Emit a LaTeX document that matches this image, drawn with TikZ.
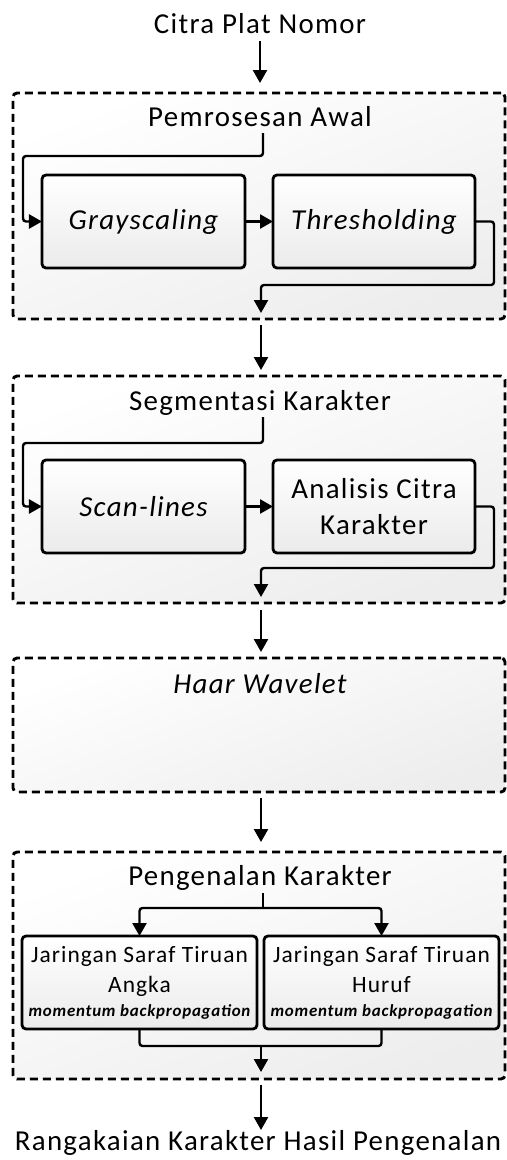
\documentclass[tikz,border=0pt]{standalone}
\usepackage{fontspec}
\setmainfont{Carlito}[LetterSpace=4.5]
\usetikzlibrary{arrows.meta}
\tikzset{
  txt/.style={inner sep=0pt, outer sep=0pt, anchor=base, font=\fontsize{29}{34}\selectfont},
  group/.style={draw, line width=2.9bp, dash pattern=on 8bp off 5bp, rounded corners=4bp,
    top color=white, bottom color=black!7, shading angle=20, outer sep=0pt, inner sep=0pt},
  stepbox/.style={draw, line width=2.8bp, rounded corners=4bp, top color=white, bottom color=black!8,
    outer sep=0pt, inner sep=0pt, align=center, font=\fontsize{29}{36}\selectfont},
  arr/.style={line width=2.4bp, -{Triangle[length=13bp,width=14bp]}, rounded corners=3bp},
  ln/.style={line width=2.4bp, rounded corners=3bp},
}
\begin{document}
\begin{tikzpicture}[x=1bp,y=-1bp]
\useasboundingbox (0,0) rectangle (507,1160);
% title
\node[txt] (in) at (260,33) {Citra Plat Nomor};
% group 1
\node[group, minimum width=492bp, minimum height=226bp] (g1) at (259,206) {};
\node[txt] (g1t) at (260,126) {Pemrosesan Awal};
\node[stepbox, minimum width=203bp, minimum height=93bp] (gs) at (143.5,221.5) {\itshape Grayscaling};
\node[stepbox, minimum width=202bp, minimum height=93bp] (th) at (374,221.5) {\itshape Thresholding};
\coordinate (c1) at (263,133);
\coordinate (o1) at (261,313);
\draw[arr] (c1) -- (263,156) -- (23,156) |- (gs.west);
\draw[arr] (gs) -- (th);
\draw[arr] (th.east) -- (494,221.5) |- (261,285) -- (o1);
% group 2
\node[group, minimum width=492bp, minimum height=227bp] (g2) at (259,489.5) {};
\node[txt] (g2t) at (260,410) {Segmentasi Karakter};
\node[stepbox, minimum width=203bp, minimum height=93bp] (sl) at (143.5,506.5) {\itshape Scan-lines};
\node[stepbox, minimum width=202bp, minimum height=93bp] (ac) at (374,506.5) {Analisis Citra\\Karakter};
\coordinate (c2) at (263,417);
\coordinate (o2) at (261,597);
\draw[arr] (c2) -- (263,443) -- (23,443) |- (sl.west);
\draw[arr] (sl) -- (ac);
\draw[arr] (ac.east) -- (494,506.5) |- (261,568) -- (o2);
% group 3
\node[group, minimum width=492bp, minimum height=134bp] (g3) at (259,725) {};
\node[txt] (g3t) at (260,693) {\itshape Haar Wavelet};
% group 4
\node[group, minimum width=492bp, minimum height=227bp] (g4) at (259,965.5) {};
\node[txt] (g4t) at (260,885) {Pengenalan Karakter};
\node[stepbox, minimum width=235bp, minimum height=93bp, font=\fontsize{23.5}{30}\selectfont] (ja) at (139.5,982.5)
  {Jaringan Saraf Tiruan\\Angka\\[-6bp]{\fontsize{17}{20}\selectfont\bfseries\itshape momentum backpropagation}};
\node[stepbox, minimum width=235bp, minimum height=93bp, font=\fontsize{23.5}{30}\selectfont] (jh) at (381.5,982.5)
  {Jaringan Saraf Tiruan\\Huruf\\[-6bp]{\fontsize{17}{20}\selectfont\bfseries\itshape momentum backpropagation}};
\coordinate (c4) at (263,893);
\coordinate (s4) at (263,908);
\draw[ln] (c4) -- (s4);
\draw[arr] (s4) -| (ja.north);
\draw[arr] (s4) -| (jh.north);
\coordinate (m4) at (261,1046);
\coordinate (o4) at (261,1072);
\draw[ln] (ja.south) |- (m4) -| (jh.south);
\draw[arr] (m4) -- (o4);
% output
\node[txt] (out) at (258,1150) {Rangakaian Karakter Hasil Pengenalan};
\coordinate (o5) at (261,1130);
% connectors between groups
\draw[arr, shorten <=8bp, shorten >=10bp] (in.south) -- (in.south |- g1.north);
\draw[arr, shorten <=6bp, shorten >=6bp] (g1.south -| o1) -- (g2.north -| o1);
\draw[arr, shorten <=7bp, shorten >=6bp] (g2.south -| o2) -- (g3.north -| o2);
\draw[arr, shorten <=6bp, shorten >=10bp] (g3.south -| o2) -- (g4.north -| o2);
\draw[arr, shorten <=6bp] (g4.south -| o5) -- (o5);
\end{tikzpicture}
\end{document}
